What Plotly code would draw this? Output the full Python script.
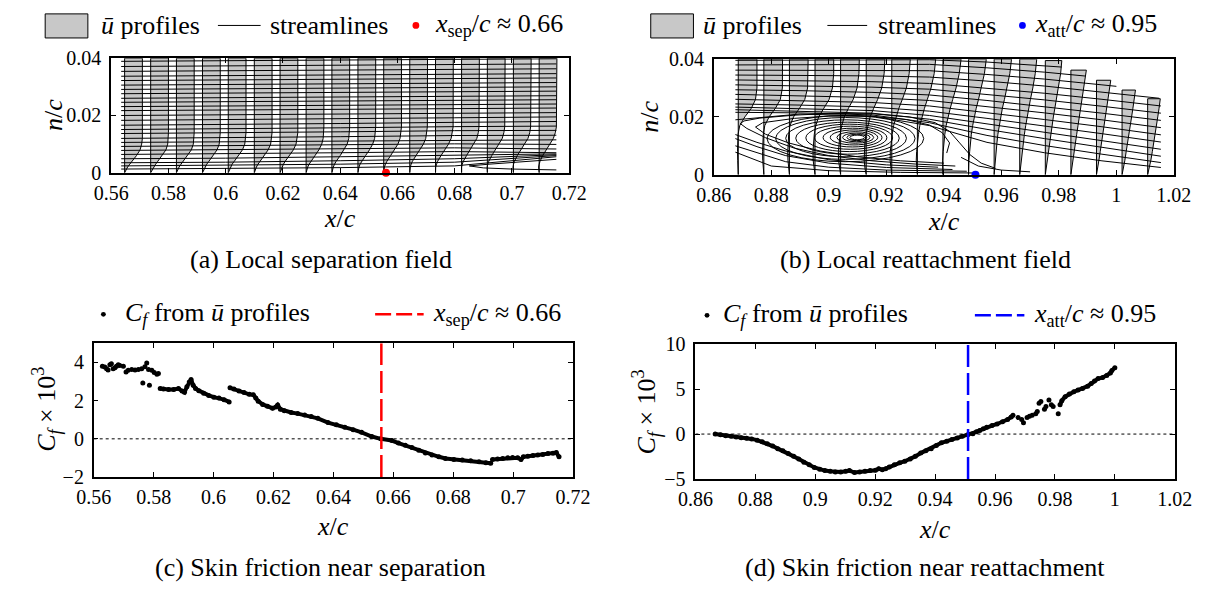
import numpy as np
import plotly.graph_objects as go

FIG_W, FIG_H = 1219, 594
FONT = "'Liberation Serif', 'Times New Roman', 'DejaVu Serif', serif"
GRAY = "#c8c8c8"
TEXT_SIZE = 26

# ---------------- (a) local separation field ----------------
sep_stations = [0.5647, 0.5738, 0.5828, 0.5919, 0.6009, 0.6100, 0.6190, 0.6281, 0.6371,
                0.6462, 0.6552, 0.6643, 0.6733, 0.6824, 0.6914, 0.7005, 0.7095]
sep_n = [0.0, 0.001, 0.002, 0.003, 0.004, 0.006, 0.008, 0.010, 0.012, 0.014, 0.016, 0.040]
sep_u = [
    [0, 0.08, 0.17, 0.29, 0.42, 0.67, 0.87, 0.96, 1.00, 1.00, 1.00, 1.00],
    [0, 0.08, 0.16, 0.28, 0.40, 0.65, 0.86, 0.96, 0.99, 1.00, 1.00, 1.00],
    [0, 0.07, 0.15, 0.26, 0.38, 0.63, 0.84, 0.95, 0.99, 1.00, 1.00, 1.00],
    [0, 0.07, 0.14, 0.24, 0.36, 0.61, 0.82, 0.94, 0.99, 1.00, 1.00, 1.00],
    [0, 0.06, 0.13, 0.22, 0.34, 0.58, 0.80, 0.93, 0.98, 1.00, 1.00, 1.00],
    [0, 0.05, 0.12, 0.21, 0.32, 0.56, 0.78, 0.92, 0.98, 1.00, 1.00, 1.00],
    [0, 0.05, 0.11, 0.19, 0.29, 0.53, 0.75, 0.90, 0.97, 1.00, 1.00, 1.00],
    [0, 0.04, 0.09, 0.17, 0.27, 0.50, 0.72, 0.88, 0.96, 0.99, 1.00, 1.00],
    [0, 0.03, 0.08, 0.15, 0.24, 0.47, 0.69, 0.86, 0.95, 0.99, 1.00, 1.00],
    [0, 0.02, 0.06, 0.12, 0.21, 0.43, 0.65, 0.83, 0.94, 0.98, 1.00, 1.00],
    [0, 0.01, 0.04, 0.10, 0.18, 0.39, 0.61, 0.80, 0.92, 0.97, 1.00, 1.00],
    [0, 0.00, 0.03, 0.08, 0.15, 0.35, 0.57, 0.77, 0.90, 0.96, 0.99, 1.00],
    [0, -0.01, 0.01, 0.06, 0.12, 0.31, 0.53, 0.73, 0.88, 0.95, 0.99, 1.00],
    [0, -0.02, 0.00, 0.04, 0.10, 0.28, 0.49, 0.70, 0.86, 0.94, 0.98, 1.00],
    [0, -0.02, -0.01, 0.02, 0.08, 0.25, 0.46, 0.67, 0.84, 0.93, 0.98, 1.00],
    [0, -0.03, -0.02, 0.01, 0.06, 0.22, 0.43, 0.64, 0.82, 0.92, 0.97, 1.00],
    [0, -0.03, -0.03, 0.00, 0.05, 0.20, 0.40, 0.61, 0.80, 0.91, 0.97, 1.00],
]
sep_stream_x = [0.5635, 0.6000, 0.6400, 0.6800, 0.7155]
sep_stream_n = [
    [0.0389, 0.0391, 0.0394, 0.0396, 0.0398],
    [0.0371, 0.0373, 0.0376, 0.0378, 0.0380],
    [0.0354, 0.0356, 0.0359, 0.0361, 0.0363],
    [0.0337, 0.0339, 0.0342, 0.0344, 0.0346],
    [0.0322, 0.0324, 0.0327, 0.0329, 0.0331],
    [0.0306, 0.0308, 0.0311, 0.0313, 0.0315],
    [0.0291, 0.0293, 0.0296, 0.0298, 0.0300],
    [0.0276, 0.0278, 0.0281, 0.0283, 0.0285],
    [0.0260, 0.0262, 0.0265, 0.0267, 0.0269],
    [0.0246, 0.0248, 0.0251, 0.0253, 0.0255],
    [0.0231, 0.0233, 0.0236, 0.0238, 0.0240],
    [0.0217, 0.0219, 0.0222, 0.0224, 0.0226],
    [0.0200, 0.0202, 0.0205, 0.0208, 0.0210],
    [0.0183, 0.0185, 0.0189, 0.0192, 0.0195],
    [0.0166, 0.0168, 0.0172, 0.0176, 0.0179],
    [0.0151, 0.0153, 0.0157, 0.0161, 0.0163],
    [0.0137, 0.0139, 0.0143, 0.0147, 0.0148],
    [0.0120, 0.0122, 0.0126, 0.0130, 0.0131],
    [0.0106, 0.0108, 0.0112, 0.0115, 0.0115],
    [0.0092, 0.0094, 0.0098, 0.0101, 0.0099],
    [0.0078, 0.0080, 0.0084, 0.0087, 0.0083],
    [0.0064, 0.0066, 0.0070, 0.0074, 0.0070],
    [0.0049, 0.0051, 0.0056, 0.0062, 0.0066],
    [0.0035, 0.0037, 0.0042, 0.0049, 0.0063],
    [0.0024, 0.0026, 0.0030, 0.0037, 0.0060],
    [0.0013, 0.0015, 0.0018, 0.0024, 0.0056],
]
sep_loop_x = [0.7155, 0.7080, 0.7000, 0.6920, 0.6851, 0.6900, 0.7000, 0.7080, 0.7155]
sep_loop_n = [0.0047, 0.0042, 0.0036, 0.0030, 0.0024, 0.0017, 0.0013, 0.0011, 0.0010]
x_sep = 0.656

# ---------------- (b) local reattachment field ----------------
att_stations = [0.8685, 0.8774, 0.8863, 0.8952, 0.9041, 0.9130, 0.9219, 0.9308, 0.9397,
                0.9486, 0.9575, 0.9664, 0.9753, 0.9842, 0.9931, 1.0020, 1.0109]
att_tops = [0.040, 0.040, 0.040, 0.040, 0.040, 0.040, 0.040, 0.040, 0.040,
            0.040, 0.040, 0.040, 0.0395, 0.0362, 0.0327, 0.0293, 0.0263]
att_n = [0.0, 0.002, 0.005, 0.008, 0.011, 0.014, 0.017, 0.020, 0.023, 0.026, 0.030, 0.035, 0.040]
att_u = [
    [0, -0.02, -0.03, -0.04, -0.03, -0.01, 0.08, 0.35, 0.70, 0.92, 1.00, 1.00, 1.00],
    [0, -0.03, -0.06, -0.07, -0.06, -0.03, 0.05, 0.28, 0.62, 0.88, 0.99, 1.00, 1.00],
    [0, -0.04, -0.08, -0.09, -0.08, -0.04, 0.03, 0.22, 0.54, 0.82, 0.97, 1.00, 1.00],
    [0, -0.05, -0.10, -0.11, -0.09, -0.04, 0.04, 0.20, 0.47, 0.75, 0.93, 1.00, 1.00],
    [0, -0.06, -0.11, -0.12, -0.09, -0.03, 0.06, 0.20, 0.42, 0.67, 0.88, 0.98, 1.00],
    [0, -0.06, -0.11, -0.11, -0.07, -0.01, 0.08, 0.21, 0.40, 0.61, 0.83, 0.96, 1.00],
    [0, -0.05, -0.09, -0.08, -0.04, 0.02, 0.10, 0.22, 0.38, 0.56, 0.78, 0.93, 0.99],
    [0, -0.04, -0.06, -0.04, 0.00, 0.06, 0.13, 0.24, 0.38, 0.53, 0.73, 0.90, 0.98],
    [0, -0.02, -0.02, 0.01, 0.05, 0.10, 0.17, 0.27, 0.39, 0.52, 0.70, 0.87, 0.97],
    [0, 0.00, 0.02, 0.06, 0.10, 0.15, 0.22, 0.30, 0.41, 0.53, 0.69, 0.85, 0.95],
    [0, 0.02, 0.06, 0.10, 0.15, 0.20, 0.27, 0.35, 0.44, 0.55, 0.69, 0.84, 0.93],
    [0, 0.03, 0.08, 0.13, 0.19, 0.25, 0.32, 0.39, 0.48, 0.57, 0.70, 0.83, 0.91],
    [0, 0.04, 0.10, 0.16, 0.22, 0.28, 0.35, 0.43, 0.51, 0.59, 0.70, 0.82, 0.89],
    [0, 0.05, 0.11, 0.18, 0.25, 0.31, 0.38, 0.45, 0.53, 0.61, 0.71, 0.81, 0.88],
    [0, 0.06, 0.13, 0.20, 0.27, 0.34, 0.41, 0.48, 0.55, 0.63, 0.72, 0.80, 0.86],
    [0, 0.07, 0.15, 0.22, 0.30, 0.37, 0.44, 0.51, 0.58, 0.65, 0.73, 0.80, 0.85],
    [0, 0.08, 0.17, 0.25, 0.33, 0.40, 0.47, 0.54, 0.61, 0.67, 0.74, 0.80, 0.84],
]
att_stream_x = [0.8675, 0.8900, 0.9150, 0.9350, 0.9550, 0.9750, 0.9950, 1.0155]
att_stream_n = [
    [0.0396, 0.0397, 0.0398, 0.0398, 0.0390, 0.0378, 0.0360, 0.0340],
    [0.0380, 0.0381, 0.0382, 0.0382, 0.0370, 0.0355, 0.0336, 0.0315],
    [0.0362, 0.0362, 0.0362, 0.0360, 0.0347, 0.0331, 0.0311, 0.0290],
    [0.0345, 0.0344, 0.0342, 0.0338, 0.0324, 0.0307, 0.0286, 0.0264],
    [0.0328, 0.0326, 0.0322, 0.0316, 0.0300, 0.0282, 0.0261, 0.0238],
    [0.0311, 0.0308, 0.0303, 0.0296, 0.0278, 0.0259, 0.0237, 0.0213],
    [0.0294, 0.0291, 0.0285, 0.0276, 0.0257, 0.0236, 0.0213, 0.0188],
    [0.0278, 0.0274, 0.0267, 0.0257, 0.0236, 0.0214, 0.0190, 0.0163],
    [0.0261, 0.0257, 0.0250, 0.0238, 0.0215, 0.0191, 0.0166, 0.0138],
    [0.0245, 0.0241, 0.0234, 0.0220, 0.0195, 0.0169, 0.0142, 0.0113],
    [0.0234, 0.0229, 0.0222, 0.0205, 0.0176, 0.0147, 0.0118, 0.0088],
    [0.0225, 0.0220, 0.0213, 0.0192, 0.0157, 0.0125, 0.0095, 0.0064],
    [0.0216, 0.0214, 0.0207, 0.0180, 0.0136, 0.0101, 0.0071, 0.0042],
    [0.0190, 0.0210, 0.0203, 0.0170, 0.0112, 0.0076, 0.0048, 0.0025],
]
att_bubble_x = [
    [0.9440, 0.9300, 0.9150, 0.9000, 0.8880, 0.8780, 0.8715, 0.8692, 0.8705, 0.8760,
     0.8880, 0.9000, 0.9150, 0.9280, 0.9370, 0.9420, 0.9455, 0.9490, 0.9530, 0.9580],
    [0.9400, 0.9250, 0.9100, 0.8970, 0.8860, 0.8780, 0.8745, 0.8770, 0.8880, 0.9000,
     0.9150, 0.9270, 0.9350, 0.9395, 0.9420, 0.9410],
    [0.9380, 0.9200, 0.9000, 0.8850, 0.8750, 0.8675],
    [0.9430, 0.9200, 0.9000, 0.8850, 0.8750, 0.8675],
    [0.9480, 0.9200, 0.9000, 0.8850, 0.8675],
    [0.9500, 0.9250, 0.9000, 0.8800, 0.8675],
    [0.9460, 0.9520, 0.9600, 0.9700],
]
att_bubble_n = [
    [0.0030, 0.0037, 0.0048, 0.0066, 0.0092, 0.0128, 0.0160, 0.0177, 0.0186, 0.0196,
     0.0206, 0.0212, 0.0211, 0.0200, 0.0180, 0.0150, 0.0110, 0.0070, 0.0040, 0.0022],
    [0.0040, 0.0048, 0.0062, 0.0082, 0.0110, 0.0140, 0.0165, 0.0180, 0.0195, 0.0203,
     0.0202, 0.0191, 0.0172, 0.0145, 0.0110, 0.0075],
    [0.0026, 0.0034, 0.0052, 0.0082, 0.0112, 0.0139],
    [0.0018, 0.0025, 0.0040, 0.0066, 0.0097, 0.0125],
    [0.0012, 0.0016, 0.0026, 0.0045, 0.0100],
    [0.0006, 0.0008, 0.0014, 0.0030, 0.0078],
    [0.0060, 0.0030, 0.0016, 0.0010],
]
# recirculation loops: x-left, x-right, n-bottom, n-top
vortex_x0 = [0.8785, 0.8815, 0.8850, 0.8885, 0.8920, 0.8950, 0.8980, 0.9005, 0.9028, 0.9048, 0.9063, 0.9073]
vortex_x1 = [0.9330, 0.9300, 0.9270, 0.9245, 0.9222, 0.9202, 0.9185, 0.9170, 0.9156, 0.9143, 0.9132, 0.9124]
vortex_n0 = [0.0045, 0.0053, 0.0062, 0.0071, 0.0080, 0.0088, 0.0096, 0.0103, 0.0109, 0.0114, 0.0118, 0.0121]
vortex_n1 = [0.0205, 0.0198, 0.0190, 0.0182, 0.0175, 0.0168, 0.0161, 0.0155, 0.0149, 0.0144, 0.0140, 0.0137]
x_att = 0.951

# ---------------- (c) skin friction near separation ----------------
cfs_scatter_x = [0.5629, 0.5637, 0.5643, 0.5648, 0.5654, 0.5659, 0.5665, 0.5671, 0.5676, 0.5682,
                 0.5687, 0.5699, 0.5708, 0.5715, 0.5727, 0.5738, 0.5749, 0.5760, 0.5771, 0.5777,
                 0.5783, 0.5794, 0.5802, 0.5811, 0.5816, 0.5764, 0.5786]
cfs_scatter_y = [3.80, 3.75, 3.67, 3.60, 3.88, 3.93, 3.67, 3.72, 3.80, 3.88,
                 3.83, 3.80, 3.50, 3.58, 3.63, 3.60, 3.63, 3.67, 3.77, 3.97,
                 3.63, 3.58, 3.47, 3.38, 3.42, 2.92, 2.80]
cfs_seg1_x = [0.5822, 0.5833, 0.5850, 0.5867, 0.5883, 0.5895, 0.5903, 0.5911, 0.5919, 0.5925,
              0.5932, 0.5940, 0.5951, 0.5967, 0.5984, 0.6001, 0.6018, 0.6035, 0.6052]
cfs_seg1_y = [2.63, 2.60, 2.58, 2.58, 2.63, 2.50, 2.43, 2.72, 2.97, 3.10,
              2.80, 2.63, 2.52, 2.38, 2.27, 2.18, 2.13, 2.05, 1.93]
cfs_seg2_x = [0.6055, 0.6068, 0.6085, 0.6102, 0.6119, 0.6133, 0.6141, 0.6149, 0.6164, 0.6180,
              0.6197, 0.6208, 0.6214, 0.6223, 0.6236, 0.6259, 0.6281, 0.6304, 0.6326, 0.6348,
              0.6382, 0.6410, 0.6438, 0.6466, 0.6494, 0.6528, 0.6558, 0.6595, 0.6617, 0.6640,
              0.6662, 0.6685, 0.6707, 0.6729, 0.6752, 0.6774, 0.6802, 0.6830, 0.6858, 0.6886,
              0.6909, 0.6925]
cfs_seg2_y = [2.67, 2.60, 2.50, 2.42, 2.33, 2.30, 2.13, 1.97, 1.80, 1.70,
              1.60, 1.67, 1.77, 1.55, 1.47, 1.38, 1.32, 1.25, 1.17, 1.07,
              0.85, 0.74, 0.60, 0.48, 0.34, 0.12, 0.00, -0.09, -0.22, -0.34,
              -0.46, -0.60, -0.74, -0.85, -0.94, -1.03, -1.08, -1.11, -1.15, -1.20,
              -1.25, -1.28]
cfs_seg3_x = [0.6931, 0.6948, 0.6965, 0.6982, 0.6998, 0.7015, 0.7026, 0.7034, 0.7049, 0.7066,
              0.7082, 0.7099, 0.7116, 0.7133, 0.7144, 0.7153]
cfs_seg3_y = [-1.08, -1.06, -1.03, -0.99, -0.97, -0.99, -1.08, -0.94, -0.91, -0.87,
              -0.85, -0.82, -0.77, -0.75, -0.72, -0.94]

# ---------------- (d) skin friction near reattachment ----------------
cfa_seg1_x = [0.8666, 0.8684, 0.8701, 0.8719, 0.8736, 0.8753, 0.8771, 0.8788, 0.8806, 0.8823,
              0.8840, 0.8858, 0.8875, 0.8892, 0.8910, 0.8928, 0.8945, 0.8962, 0.8980, 0.8997,
              0.9015, 0.9032, 0.9050, 0.9067, 0.9085, 0.9102, 0.9114, 0.9131, 0.9148, 0.9166,
              0.9183, 0.9201, 0.9212, 0.9224, 0.9235, 0.9247, 0.9264, 0.9282, 0.9299, 0.9317,
              0.9334, 0.9352, 0.9369, 0.9387, 0.9404, 0.9421, 0.9439, 0.9456, 0.9474, 0.9491,
              0.9509, 0.9526, 0.9538, 0.9549, 0.9561, 0.9572, 0.9590, 0.9607, 0.9625, 0.9642,
              0.9654, 0.9660]
cfa_seg1_y = [0.00, -0.07, -0.18, -0.25, -0.32, -0.40, -0.47, -0.54, -0.68, -0.86,
              -1.08, -1.33, -1.62, -1.87, -2.16, -2.48, -2.77, -3.13, -3.42, -3.71,
              -3.92, -4.06, -4.14, -4.21, -4.21, -4.14, -4.06, -4.28, -4.21, -4.14,
              -4.06, -4.03, -3.85, -3.96, -3.85, -3.67, -3.42, -3.20, -3.02, -2.77,
              -2.48, -2.12, -1.87, -1.62, -1.26, -0.97, -0.79, -0.61, -0.43, -0.25,
              -0.07, 0.04, 0.25, 0.40, 0.58, 0.76, 0.94, 1.12, 1.37, 1.62,
              1.91, 2.09]
cfa_scatter_x = [0.9677, 0.9689, 0.9695, 0.9707, 0.9715, 0.9724, 0.9736, 0.9741, 0.9747, 0.9753,
                 0.9765, 0.9770, 0.9780, 0.9788, 0.9794, 0.9811]
cfa_scatter_y = [1.83, 1.62, 1.26, 1.83, 1.98, 2.09, 2.27, 2.52, 3.43, 3.61,
                 2.77, 3.07, 3.80, 3.25, 3.07, 2.26]
cfa_seg2_x = [0.9817, 0.9823, 0.9834, 0.9848, 0.9863, 0.9877, 0.9892, 0.9909, 0.9921, 0.9932,
              0.9944, 0.9959, 0.9973, 0.9985, 0.9990, 1.0000]
cfa_seg2_y = [3.25, 3.72, 4.16, 4.45, 4.71, 4.89, 5.07, 5.33, 5.62, 5.91,
              6.17, 6.28, 6.53, 6.79, 7.08, 7.37]

# ---------------- drawing helpers ----------------
SEP_WIDTH = 0.0062   # x/c extent of a free-stream profile in (a)
ATT_WIDTH = 0.0065   # x/c extent of a free-stream profile in (b)


def profile_polygon(x0, grid, frac, width, top):
    n = np.asarray(grid, float)
    f = np.asarray(frac, float)
    keep = n <= top + 1e-12
    nn, ff = list(n[keep]), list(f[keep])
    if nn[-1] < top:
        ff.append(float(np.interp(top, n, f)))
        nn.append(top)
    xs = [x0 + width * v for v in ff]
    return [x0] + xs + [x0, x0], [0.0] + nn + [top, 0.0]


def clip_under(xs, ns, bound):
    ox, on = [xs[0]], [ns[0]]
    for i in range(1, len(xs)):
        ga = ns[i - 1] - bound(xs[i - 1])
        gb = ns[i] - bound(xs[i])
        if gb > 0:
            if ga <= 0:
                t = ga / (ga - gb)
                ox.append(xs[i - 1] + t * (xs[i] - xs[i - 1]))
                on.append(ns[i - 1] + t * (ns[i] - ns[i - 1]))
            break
        ox.append(xs[i])
        on.append(ns[i])
    return ox, on


def joined(list_x, list_y):
    X, Y = [], []
    for xs, ys in zip(list_x, list_y):
        X += list(xs) + [None]
        Y += list(ys) + [None]
    return X, Y


def px_x(p):
    return p / FIG_W


def px_y(p):
    return 1 - p / FIG_H


fig = go.Figure()

# (a) profiles and streamlines
for x0, u in zip(sep_stations, sep_u):
    px, py = profile_polygon(x0, sep_n, u, SEP_WIDTH, 0.04)
    fig.add_trace(go.Scatter(x=px, y=py, mode="lines", fill="toself", fillcolor=GRAY,
                             line=dict(color="black", width=1), xaxis="x", yaxis="y",
                             hoverinfo="skip", showlegend=False))
sx, sy = joined([sep_stream_x] * len(sep_stream_n) + [sep_loop_x],
                sep_stream_n + [sep_loop_n])
fig.add_trace(go.Scatter(x=sx, y=sy, mode="lines", line=dict(color="black", width=1),
                         xaxis="x", yaxis="y", hoverinfo="skip", showlegend=False))
fig.add_trace(go.Scatter(x=[x_sep], y=[0], mode="markers", marker=dict(color="red", size=8),
                         xaxis="x", yaxis="y", cliponaxis=False, showlegend=False))

# (b) profiles, streamlines and recirculation
for x0, u, top in zip(att_stations, att_u, att_tops):
    px, py = profile_polygon(x0, att_n, u, ATT_WIDTH, top)
    fig.add_trace(go.Scatter(x=px, y=py, mode="lines", fill="toself", fillcolor=GRAY,
                             line=dict(color="black", width=1), xaxis="x2", yaxis="y2",
                             hoverinfo="skip", showlegend=False))


def att_boundary(x):
    return float(np.interp(x, att_stations, att_tops))


clipped = [clip_under(att_stream_x, ns, att_boundary) for ns in att_stream_n]
bx, by = joined([c[0] for c in clipped] + att_bubble_x, [c[1] for c in clipped] + att_bubble_n)
fig.add_trace(go.Scatter(x=bx, y=by, mode="lines", line=dict(color="black", width=1),
                         xaxis="x2", yaxis="y2", hoverinfo="skip", showlegend=False))
fig.add_trace(go.Scatter(x=[x_att], y=[0], mode="markers", marker=dict(color="blue", size=8),
                         xaxis="x2", yaxis="y2", cliponaxis=False, showlegend=False))

shapes = []
for a, b, c, d in zip(vortex_x0, vortex_x1, vortex_n0, vortex_n1):
    shapes.append(dict(type="circle", xref="x2", yref="y2", x0=a, x1=b, y0=c, y1=d,
                       line=dict(color="black", width=1)))

# (c) skin friction near separation
fig.add_trace(go.Scatter(x=[0.56, 0.72], y=[0, 0], mode="lines",
                         line=dict(color="black", width=1, dash="3px,3px"),
                         xaxis="x3", yaxis="y3", hoverinfo="skip", showlegend=False))
cx, cy = joined([cfs_seg1_x, cfs_seg2_x, cfs_seg3_x], [cfs_seg1_y, cfs_seg2_y, cfs_seg3_y])
fig.add_trace(go.Scatter(x=cx, y=cy, mode="lines+markers", line=dict(color="black", width=4),
                         marker=dict(color="black", size=5), xaxis="x3", yaxis="y3",
                         showlegend=False))
fig.add_trace(go.Scatter(x=cfs_scatter_x, y=cfs_scatter_y, mode="markers",
                         marker=dict(color="black", size=5), xaxis="x3", yaxis="y3",
                         showlegend=False))
fig.add_trace(go.Scatter(x=[x_sep, x_sep], y=[-2, 5], mode="lines",
                         line=dict(color="red", width=2.5, dash="22px,6px"),
                         xaxis="x3", yaxis="y3", showlegend=False))

# (d) skin friction near reattachment
fig.add_trace(go.Scatter(x=[0.86, 1.02], y=[0, 0], mode="lines",
                         line=dict(color="black", width=1, dash="3px,3px"),
                         xaxis="x4", yaxis="y4", hoverinfo="skip", showlegend=False))
dx, dy = joined([cfa_seg1_x, cfa_seg2_x], [cfa_seg1_y, cfa_seg2_y])
fig.add_trace(go.Scatter(x=dx, y=dy, mode="lines+markers", line=dict(color="black", width=4),
                         marker=dict(color="black", size=5), xaxis="x4", yaxis="y4",
                         showlegend=False))
fig.add_trace(go.Scatter(x=cfa_scatter_x, y=cfa_scatter_y, mode="markers",
                         marker=dict(color="black", size=5), xaxis="x4", yaxis="y4",
                         showlegend=False))
fig.add_trace(go.Scatter(x=[x_att, x_att], y=[-5, 10], mode="lines",
                         line=dict(color="blue", width=2.5, dash="22px,6px"),
                         xaxis="x4", yaxis="y4", showlegend=False))

# ---------------- axes ----------------
tick_font = dict(family=FONT, size=20, color="black")


def axis(domain, rng, vals, texts, anchor, standoff=0):
    return dict(domain=domain, range=rng, tickvals=vals, ticktext=texts, anchor=anchor,
                showline=True, mirror="ticks", linecolor="black", linewidth=1.6,
                ticks="inside", ticklen=5, tickwidth=1, tickcolor="black",
                showgrid=False, zeroline=False, tickfont=tick_font, fixedrange=True,
                ticklabelstandoff=standoff)


def xdom(a, b):
    return [px_x(a), px_x(b)]


def ydom(top, bottom):
    return [px_y(bottom), px_y(top)]


xa_vals = [0.56, 0.58, 0.60, 0.62, 0.64, 0.66, 0.68, 0.70, 0.72]
xa_text = ["0.56", "0.58", "0.6", "0.62", "0.64", "0.66", "0.68", "0.7", "0.72"]
xb_vals = [0.86, 0.88, 0.90, 0.92, 0.94, 0.96, 0.98, 1.00, 1.02]
xb_text = ["0.86", "0.88", "0.9", "0.92", "0.94", "0.96", "0.98", "1", "1.02"]
n_vals, n_text = [0, 0.02, 0.04], ["0", "0.02", "0.04"]

fig.update_layout(
    xaxis=axis(xdom(96, 568), [0.56, 0.72], xa_vals, xa_text, "y", 1),
    yaxis=axis(ydom(49, 168), [0, 0.04], n_vals, n_text, "x", 4),
    xaxis2=axis(xdom(717, 1191), [0.86, 1.02], xb_vals, xb_text, "y2", 1),
    yaxis2=axis(ydom(50, 170), [0, 0.04], n_vals, n_text, "x2", 4),
    xaxis3=axis(xdom(78, 572), [0.56, 0.72], xa_vals, xa_text, "y3", 1),
    yaxis3=axis(ydom(345, 484), [-2, 5], [-2, 0, 2, 4], ["\u22122", "0", "2", "4"], "x3", 4),
    xaxis4=axis(xdom(698, 1192), [0.86, 1.02], xb_vals, xb_text, "y4", 1),
    yaxis4=axis(ydom(346, 486), [-5, 10], [-5, 0, 5, 10], ["\u22125", "0", "5", "10"], "x4", 4),
)

# ---------------- legends, labels, captions ----------------
annotations = []


def text(x, y, s, size=TEXT_SIZE, anchor="left", angle=0):
    annotations.append(dict(x=px_x(x), y=px_y(y), xref="paper", yref="paper", text=s,
                            showarrow=False, xanchor=anchor, yanchor="middle", textangle=angle,
                            font=dict(family=FONT, size=size, color="black")))


def rect(x0, x1, y0, y1):
    shapes.append(dict(type="rect", xref="paper", yref="paper", x0=px_x(x0), x1=px_x(x1),
                       y0=px_y(y1), y1=px_y(y0), fillcolor=GRAY,
                       line=dict(color="black", width=1)))


def hline(x0, x1, y, color="black", width=1, dash="solid"):
    shapes.append(dict(type="line", xref="paper", yref="paper", x0=px_x(x0), x1=px_x(x1),
                       y0=px_y(y), y1=px_y(y), line=dict(color=color, width=width, dash=dash)))


def dot(cx, cy, r, color):
    shapes.append(dict(type="circle", xref="paper", yref="paper", x0=px_x(cx - r), x1=px_x(cx + r),
                       y0=px_y(cy + r), y1=px_y(cy - r), fillcolor=color,
                       line=dict(color=color, width=0)))


UBAR = "<i>\u016b</i>"
# top legends
rect(28, 72, 3, 28)
text(83, 15, UBAR + " profiles")
hline(206, 250, 15)
text(258, 15, "streamlines")
dot(410, 15, 3.5, "red")
text(428, 15, "<i>x</i><sub>sep</sub>/<i>c</i> \u2248 0.66")

rect(652, 696, 3, 28)
text(704, 15, UBAR + " profiles")
hline(834, 875, 15)
text(884, 15, "streamlines")
dot(1035, 15, 3.5, "blue")
text(1046, 15, "<i>x</i><sub>att</sub>/<i>c</i> \u2248 0.95")

# bottom legends
dot(88, 315, 2.5, "black")
text(108, 315, "<i>C<sub>f</sub></i> from " + UBAR + " profiles")
hline(368, 418, 315, "red", 2.5, "16px,5px")
text(426, 315, "<i>x</i><sub>sep</sub>/<i>c</i> \u2248 0.66")

dot(710, 316, 2.5, "black")
text(724, 316, "<i>C<sub>f</sub></i> from " + UBAR + " profiles")
hline(986, 1037, 316, "blue", 2.5, "16px,5px")
text(1045, 316, "<i>x</i><sub>att</sub>/<i>c</i> \u2248 0.95")

# axis titles
XC = "<i>x</i>/<i>c</i>"
NC = "<i>n</i>/<i>c</i>"
CF = "<i>C<sub>f</sub></i> \u00d7 10<sup>3</sup>"
text(332, 215, XC, anchor="center")
text(954, 219, XC, anchor="center")
text(325, 535, XC, anchor="center")
text(945, 538, XC, anchor="center")
text(36, 108, NC, anchor="center", angle=-90)
text(651, 110, NC, anchor="center", angle=-90)
text(29, 414, CF, anchor="center", angle=-90)
text(647, 416, CF, anchor="center", angle=-90)

# captions
text(312, 258, "(a) Local separation field", anchor="center")
text(935, 258, "(b) Local reattachment field", anchor="center")
text(312, 578, "(c) Skin friction near separation", anchor="center")
text(935, 578, "(d) Skin friction near reattachment", anchor="center")

fig.update_layout(width=FIG_W, height=FIG_H, margin=dict(l=0, r=0, t=0, b=0),
                  paper_bgcolor="white", plot_bgcolor="white",
                  font=dict(family=FONT, color="black"),
                  shapes=shapes, annotations=annotations, showlegend=False)

fig.write_html("out.html")
